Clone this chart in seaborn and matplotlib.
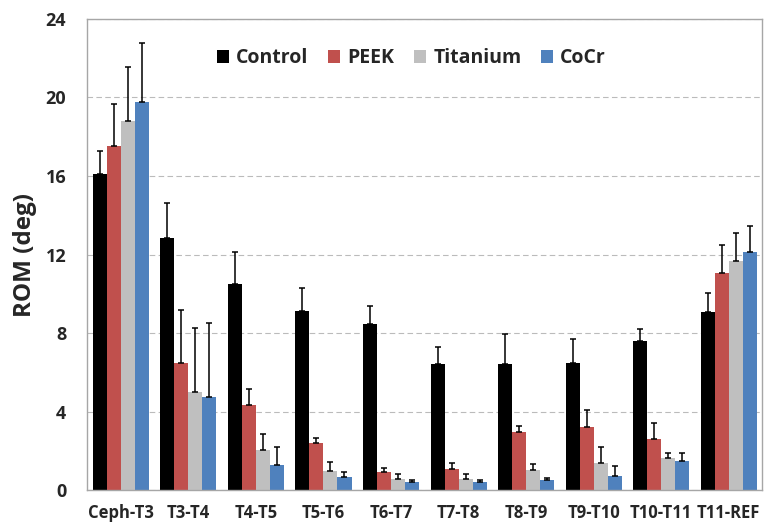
import matplotlib
matplotlib.use('Agg')
import matplotlib.pyplot as plt
import seaborn as sns
import numpy as np
import pandas as pd

levels = ['Ceph-T3', 'T3-T4', 'T4-T5', 'T5-T6', 'T6-T7', 'T7-T8',
          'T8-T9', 'T9-T10', 'T10-T11', 'T11-REF']
groups = ['Control', 'PEEK', 'Titanium', 'CoCr']

control = [16.1, 12.85, 10.5, 9.15, 8.45, 6.45, 6.45, 6.5, 7.6, 9.1]
peek = [17.55, 6.5, 4.35, 2.4, 0.95, 1.1, 2.95, 3.2, 2.6, 11.05]
titanium = [18.8, 5.0, 2.05, 1.0, 0.55, 0.55, 1.05, 1.4, 1.65, 11.65]
cocr = [19.75, 4.75, 1.3, 0.65, 0.4, 0.4, 0.5, 0.75, 1.5, 12.15]

control_sd = [1.2, 1.8, 1.65, 1.15, 0.95, 0.85, 1.5, 1.2, 0.6, 0.95]
peek_sd = [2.1, 2.7, 0.8, 0.25, 0.2, 0.3, 0.3, 0.9, 0.8, 1.45]
titanium_sd = [2.75, 3.25, 0.8, 0.45, 0.3, 0.3, 0.3, 0.8, 0.25, 1.45]
cocr_sd = [3.05, 3.75, 0.9, 0.3, 0.1, 0.1, 0.1, 0.5, 0.4, 1.3]

colors = ['#000000', '#c0504d', '#bfbfbf', '#4f81bd']

means = [control, peek, titanium, cocr]
sds = [control_sd, peek_sd, titanium_sd, cocr_sd]

df = pd.DataFrame({
    'level': levels * len(groups),
    'group': np.repeat(groups, len(levels)),
    'rom': np.concatenate(means),
})

sns.set_style('white')
plt.rcParams['font.family'] = ['Open Sans', 'DejaVu Sans']

fig, ax = plt.subplots(figsize=(7.64, 5.26), dpi=100)
fig.subplots_adjust(left=0.114, right=0.998, top=0.964, bottom=0.068)

sns.barplot(data=df, x='level', y='rom', hue='group', order=levels,
            hue_order=groups, palette=colors, errorbar=None, width=0.83,
            saturation=1, linewidth=0, ax=ax, zorder=2)

# upward-only error bars, positioned from the drawn bars
for cont, sd in zip(ax.containers, sds):
    xs = [p.get_x() + p.get_width() / 2 for p in cont]
    hs = [p.get_height() for p in cont]
    ax.errorbar(xs, hs, yerr=[np.zeros(len(sd)), sd], fmt='none',
                ecolor='black', elinewidth=1.1, capsize=2.2, capthick=1.1,
                zorder=3)

ax.set_ylim(0, 24)
ax.set_xlim(-0.5, len(levels) - 0.5)
ax.set_yticks(np.arange(0, 25, 4))
ax.yaxis.grid(True, linestyle=(0, (5, 3)), color='#bbbbbb', linewidth=0.8, zorder=0)
ax.set_axisbelow(True)

ax.set_xlabel('')
ax.set_ylabel('ROM (deg)', fontsize=17.5, fontweight='bold', labelpad=6)

for s in ax.spines.values():
    s.set_color('#a6a6a6')
    s.set_linewidth(1)

ax.tick_params(axis='x', which='major', length=0, pad=10)
ax.set_xticks(np.arange(len(levels)) - 0.5, minor=True)
ax.tick_params(axis='x', which='minor', length=5, color='#a6a6a6', direction='out')
ax.tick_params(axis='y', length=5, color='#a6a6a6', direction='out', pad=10)
ax.tick_params(axis='x', labelsize=12)
ax.tick_params(axis='y', labelsize=13)
for lab in ax.get_xticklabels() + ax.get_yticklabels():
    lab.set_fontweight('bold')

leg = ax.legend(loc='center', bbox_to_anchor=(0.48, 0.917), ncol=4,
                frameon=False, handlelength=0.65,
                handleheight=0.65, handletextpad=0.35, columnspacing=1.0,
                prop={'weight': 'bold', 'size': 14})

fig.savefig('out.png', dpi=100)
